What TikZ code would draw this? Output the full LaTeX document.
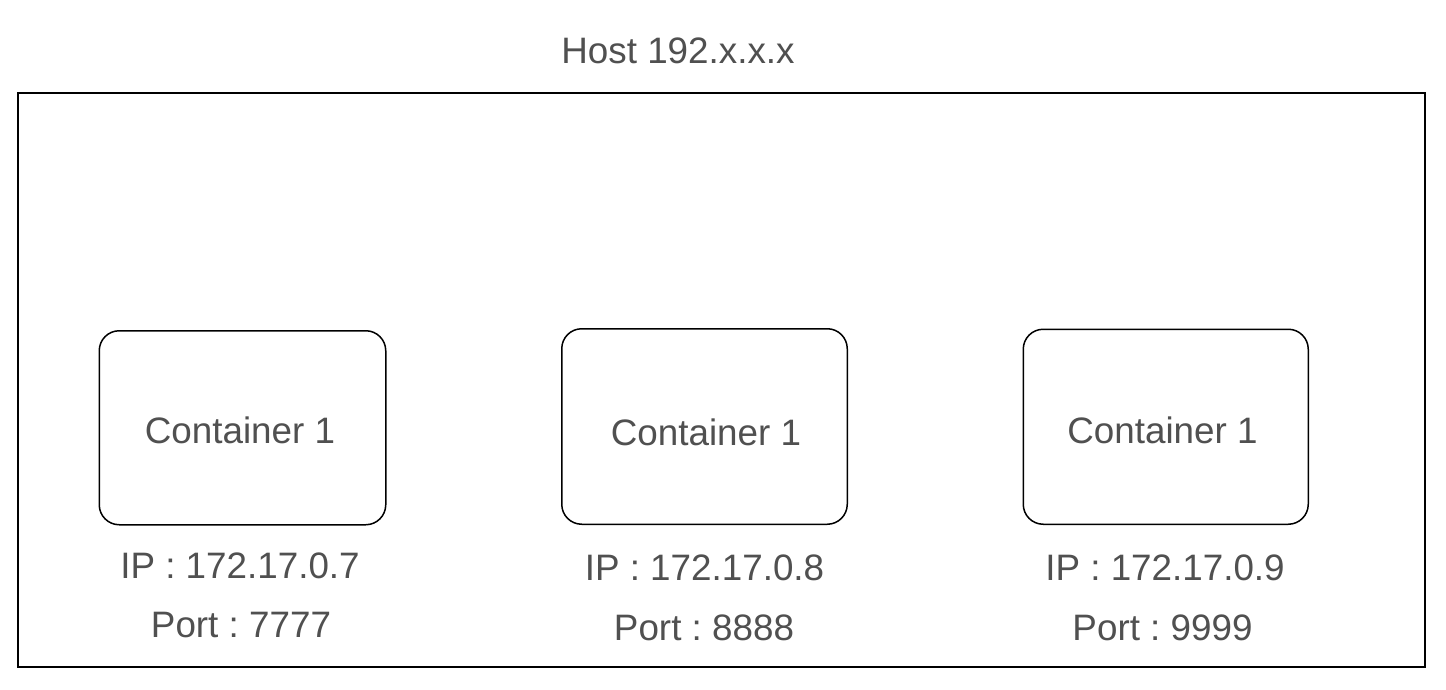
\documentclass[tikz,border=0pt]{standalone}
\usepackage{fontspec}
\setmainfont{Liberation Sans}
\definecolor{txt}{HTML}{505050}
\frenchspacing
\begin{document}
\begin{tikzpicture}[x=0.5pt,y=-0.5pt,
  lbl/.style={font=\fontsize{18.4pt}{21pt}\selectfont\frenchspacing,text=txt,anchor=base,inner sep=0pt},
  cbox/.style={draw=black,line width=0.75pt,rounded corners=10pt,fill=white,anchor=north west,inner sep=0pt},
  hostbox/.style={draw=black,line width=1pt,anchor=north west,inner sep=0pt}]
\useasboundingbox (0,0) rectangle (1446,690);
\fill[white] (0,0) rectangle (1446,690);
\node[hostbox,minimum width=703.5pt,minimum height=287pt] (host) at (17,92) {};
\node[lbl] (title) at (678,64) {Host 192.x.x.x};
% containers
\node[cbox,minimum width=143.25pt,minimum height=97pt] (c1) at (98.5,330) {};
\node[cbox,minimum width=142.75pt,minimum height=97.75pt] (c2) at (561,328) {};
\node[cbox,minimum width=142.5pt,minimum height=97.5pt] (c3) at (1022.5,328.5) {};
\node[lbl] (t1) at (240,443.5) {Container 1};
\node[lbl] (t2) at (706,445) {Container 1};
\node[lbl] (t3) at (1162.5,443.5) {Container 1};
\node[lbl] (ip1) at (240,578.5) {IP : 172.17.0.7};
\node[lbl] (ip2) at (704.5,580.5) {IP : 172.17.0.8};
\node[lbl] (ip3) at (1165,580.5) {IP : 172.17.0.9};
\node[lbl] (p1) at (241,637) {Port : 7777};
\node[lbl] (p2) at (704,640) {Port : 8888};
\node[lbl] (p3) at (1162.5,640) {Port : 9999};
\end{tikzpicture}
\end{document}
